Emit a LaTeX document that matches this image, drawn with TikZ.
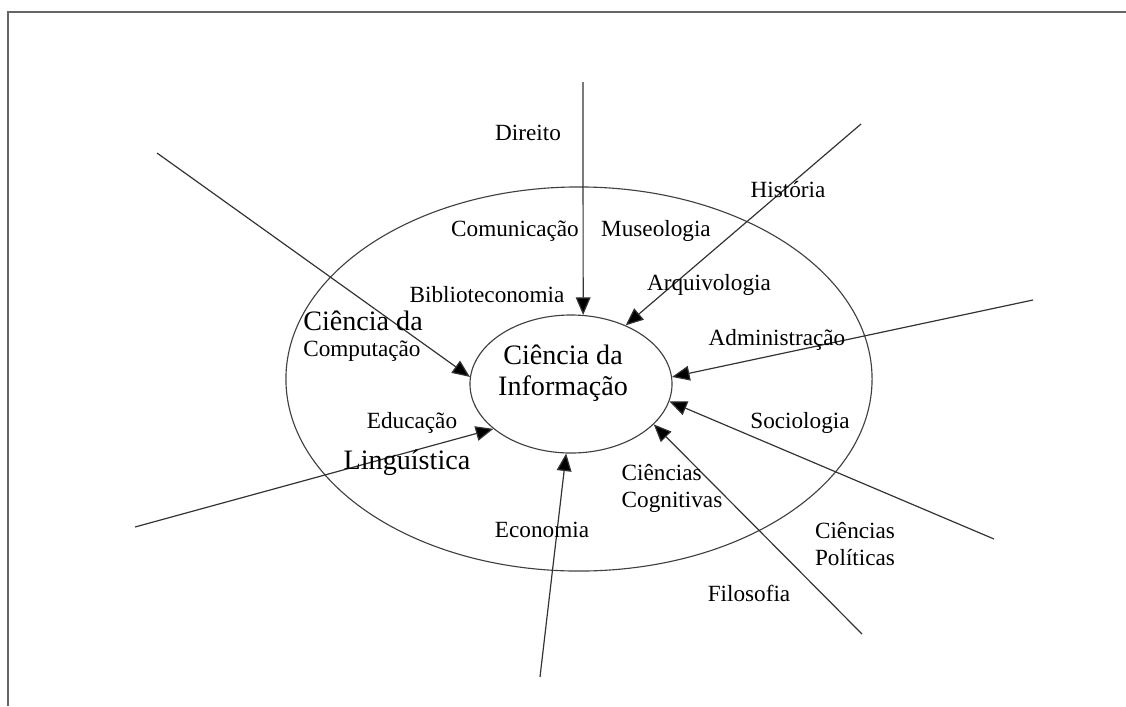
\documentclass[tikz,border=0pt]{standalone}
\usepackage{fontspec}
\setmainfont{Liberation Serif}
\usetikzlibrary{arrows.meta,shapes.geometric}

\begin{document}
\begin{tikzpicture}[x=0.025cm,y=-0.025cm, >={Triangle[length=12.5pt,width=10.5pt,fill=black]}]
    \tikzstyle{field}=[ellipse,draw=black!75,line width=0.8pt,inner sep=0pt]
    \tikzstyle{link}=[->,draw=black!80,line width=0.85pt]
    \tikzstyle{annot}=[inner sep=0pt,font=\fontsize{16.5}{19.2}\selectfont]
    \tikzstyle{big annot}=[inner sep=0pt,font=\fontsize{20}{22}\selectfont]

    \useasboundingbox (0,0) rectangle (1126,706);
    % frame of the page
    \draw[black!60,line width=1.5pt] (8,706) -- (8,12) -- (1126,12);

    % the two fields
    \node[field,minimum width=14.65cm,minimum height=9.6cm] (outer) at (579,379) {};
    \node[field,minimum width=5.05cm,minimum height=3.45cm] (CI) at (571,384) {};
    \node[big annot,align=center] (CI-txt) at (563,373) {Ciência da\\Informação};

    % free ends of the arrows
    \coordinate (Dir) at (583,82);
    \coordinate (His) at (861,124);
    \coordinate (Adm) at (1033,300);
    \coordinate (Soc) at (994,539);
    \coordinate (Fil) at (862,634);
    \coordinate (Eco) at (540,677);
    \coordinate (Edu) at (135,527);
    \coordinate (Com) at (157,153);

    \path (Dir) edge[link] (CI.80);
    \path (His) edge[link] (CI.47);
    \path (Adm) edge[link] (CI.4);
    \path (Soc) edge[link] (CI.-10);
    \path (Fil) edge[link] (CI.-26);
    \path (Eco) edge[link] (CI.-94);
    \path (Edu) edge[link] (CI.210);
    \path (Com) edge[link] (CI.176);

    % labels of the fields
    \node[annot] (L-dir) at (528,133) {Direito};
    \node[annot] (L-his) at (788,190) {História};
    \node[annot] (L-com) at (515,231) {Comunicação};
    \node[annot] (L-mus) at (656,231) {Museologia};
    \node[annot] (L-bib) at (487,295) {Biblioteconomia};
    \node[annot] (L-arq) at (709,285) {Arquivologia};
    \node[big annot,anchor=west] (L-cc1) at (303,321) {Ciência da};
    \node[annot,anchor=west] (L-cc2) at (303,351) {Computação};
    \node[annot] (L-adm) at (777,340) {Administração};
    \node[annot] (L-edu) at (412,423) {Educação};
    \node[annot] (L-soc) at (800,423) {Sociologia};
    \node[big annot] (L-lin) at (407,463) {Linguística};
    \node[annot,align=left] (L-cog) at (672,488) {Ciências\\Cognitivas};
    \node[annot] (L-eco) at (542,530) {Economia};
    \node[annot,align=left] (L-pol) at (855,544) {Ciências\\Políticas};
    \node[annot] (L-fil) at (749,593) {Filosofia};
\end{tikzpicture}
\end{document}
